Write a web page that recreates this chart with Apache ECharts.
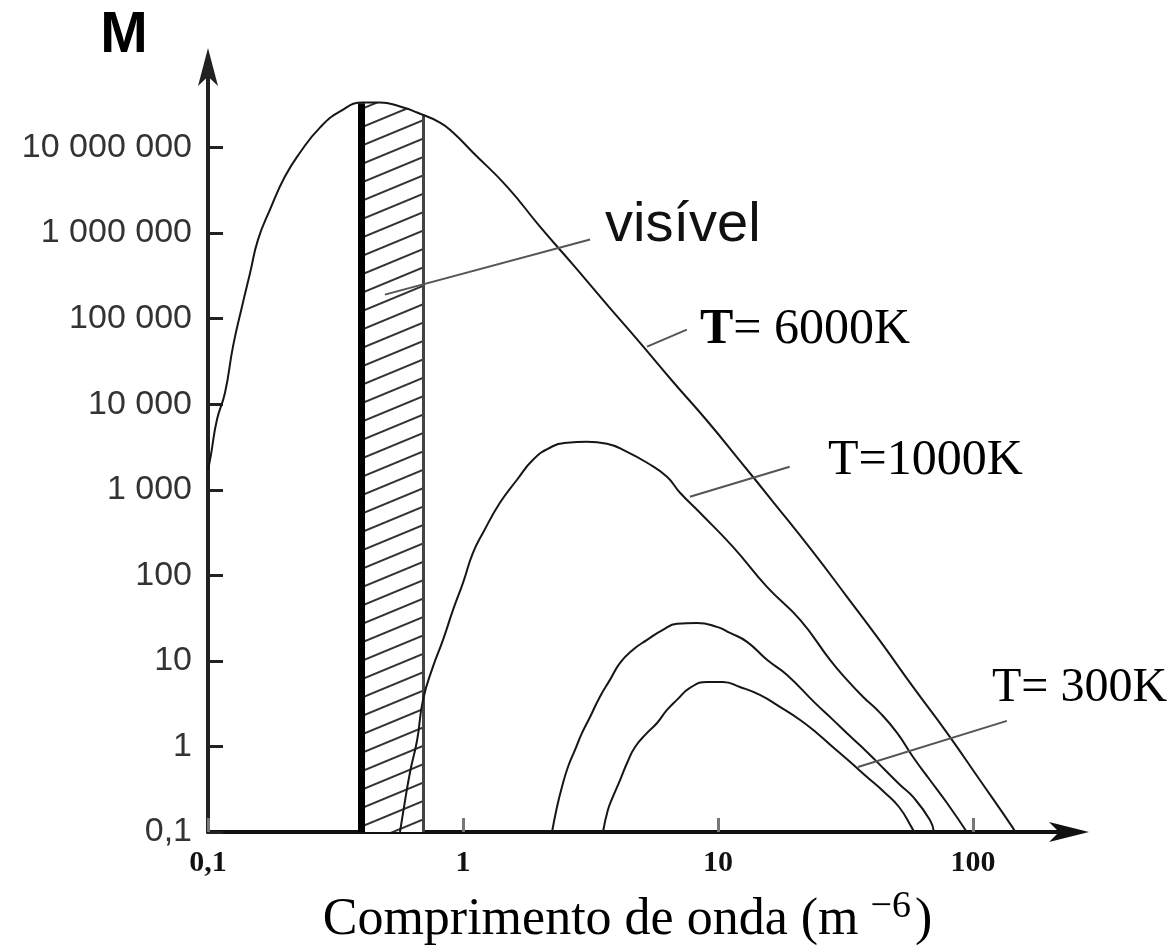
<!DOCTYPE html>
<html>
<head>
<meta charset="utf-8">
<title>Radiação do corpo negro</title>
<script src="https://cdn.jsdelivr.net/npm/echarts@6/dist/echarts.min.js"></script>
<style>
	html, body { margin: 0; padding: 0; background: #fff; }
	#chart { width: 1173px; height: 951px; }
</style>
</head>
<body>
<div id="chart"></div>
<script>
// valores: comprimento de onda (x) e M (y)
var wave6000 = [0.1, 0.1027, 0.1084, 0.1166, 0.1253, 0.1359, 0.1463, 0.1571, 0.175, 0.2003, 0.2296, 0.2748, 0.3296, 0.4055, 0.4726, 0.5663, 0.6607, 0.8124, 0.914, 1.094, 1.488, 2.004, 2.7, 3.67, 4.94, 6.66, 9.06, 12.19, 16.44, 23.58, 32.06, 43.2, 58.2, 79.1, 106.4, 143.6, 146]
var value6000 = [1700, 2570, 6590, 13600, 47100, 138000, 345000, 839000, 1880000, 4580000, 8750000, 17100000, 26400000, 33600000, 33600000, 30200000, 25700000, 19600000, 15000000, 8750000, 3500000, 1190000, 428000, 146000, 52400, 18300, 6410, 2180, 724, 188, 56.1, 17.1, 4.96, 1.44, 0.405, 0.111, 0.1]

var wave1000 = [0.566, 0.582, 0.619, 0.661, 0.697, 0.762, 0.835, 0.914, 1.0, 1.094, 1.198, 1.396, 1.629, 1.882, 2.193, 2.56, 3.06, 3.67, 4.4, 5.27, 6.31, 7.1, 8.5, 11.45, 15.56, 21.0, 27.5, 32.06, 37.1, 43.2, 50.4, 58.2, 67.8, 79.1, 94.6]
var value1000 = [0.1, 0.167, 0.49, 1.19, 3.5, 8.51, 17.6, 39.4, 81.7, 183, 314, 705, 1310, 2240, 3100, 3550, 3640, 3450, 2780, 2070, 1420, 922, 538, 215, 73.3, 30.2, 10.3, 6.0, 3.79, 2.47, 1.44, 0.753, 0.405, 0.218, 0.1]

var waveMid = [2.234, 2.337, 2.444, 2.58, 2.75, 2.93, 3.15, 3.44, 3.77, 4.13, 4.64, 5.27, 6.08, 6.9, 8.27, 9.91, 11.15, 13.0, 15.56, 18.66, 24.0, 28.0, 32.6, 38.4, 44.8, 51.8, 58.2, 67.8, 70.3]
var valueMid = [0.1, 0.196, 0.336, 0.575, 0.91, 1.44, 2.21, 3.79, 6.0, 9.48, 13.5, 17.6, 23.1, 27.1, 27.8, 25.0, 21.2, 16.7, 10.3, 6.85, 3.23, 2.1, 1.36, 0.863, 0.546, 0.355, 0.257, 0.138, 0.1]

var wave300 = [3.54, 3.7, 3.87, 4.13, 4.4, 4.73, 5.27, 5.77, 6.31, 6.9, 7.76, 9.06, 10.46, 12.19, 14.6, 17.5, 21.0, 24.4, 28.5, 33.0, 38.4, 44.8, 51.3, 57.7, 58.7]
var value300 = [0.1, 0.181, 0.257, 0.405, 0.641, 0.987, 1.44, 1.88, 2.67, 3.5, 4.83, 5.68, 5.68, 4.96, 4.0, 2.9, 2.04, 1.44, 0.96, 0.659, 0.44, 0.294, 0.196, 0.111, 0.1]

// faixa do visível (0,4 a 0,7), topo segue a curva de 6000K
var visibleWave = [0.4, 0.47, 0.57, 0.66, 0.7]
var visibleValue = [33000000, 33600000, 30200000, 25700000, 23700000]

var xTickValues = [0.1, 1, 10, 100]
var xTickLabels = ['0,1', '1', '10', '100']
var yTickValues = [0.1, 1, 10, 100, 1000, 10000, 100000, 1000000, 10000000]
var yTickLabels = ['0,1', '1', '10', '100', '1 000', '10 000', '100 000', '1 000 000', '10 000 000']

function pairs(xs, ys) {
	return xs.map(function (x, i) {
		return [x, ys[i]]
	})
}

function tickLabel(values, labels) {
	return function (v) {
		for (var i = 0; i < values.length; i++) {
			if (Math.abs(Math.log10(v) - Math.log10(values[i])) < 1e-6) return labels[i]
		}
		return ''
	}
}

function leader(a, b) {
	return {
		silent: true,
		symbol: 'none',
		animation: false,
		label: { show: false },
		lineStyle: { color: '#555', width: 2, type: 'solid' },
		data: [[{ coord: a }, { coord: b }]],
	}
}

var curveStyle = { color: '#161616', width: 2 }

var myChart = echarts.init(document.getElementById('chart'))
var option = {
	animation: false,
	backgroundColor: '#fff',
	grid: {
		left: 208,
		right: 104,
		top: 62,
		bottom: 119,
		containLabel: false,
		outerBoundsMode: 'none',
	},
	xAxis: {
		type: 'log',
		logBase: 10,
		min: 0.1,
		max: 238,
		axisLine: {
			symbol: ['none', 'arrow'],
			symbolSize: [15, 40],
			symbolOffset: [0, 20],
			lineStyle: { color: '#111', width: 4 },
		},
		axisTick: {
			inside: true,
			length: 14,
			customValues: xTickValues,
			lineStyle: { color: '#777', width: 3 },
		},
		axisLabel: {
			customValues: xTickValues,
			formatter: tickLabel(xTickValues, xTickLabels),
			fontFamily: 'Liberation Serif',
			fontWeight: 'bold',
			fontSize: 30,
			color: '#111',
			margin: 16,
		},
		splitLine: { show: false },
		minorTick: { show: false },
		name: '{a|Comprimento de onda (m}{s|−6}{a|)}',
		nameLocation: 'middle',
		nameGap: 56,
		nameTextStyle: {
			padding: [0, 22, 0, 0],
			rich: {
				a: { fontFamily: 'Liberation Serif', fontSize: 52, lineHeight: 64, color: '#000' },
				s: { fontFamily: 'Liberation Serif', fontSize: 38, lineHeight: 38, verticalAlign: 'top', color: '#000', padding: [0, 4, 0, 12] },
			},
		},
	},
	yAxis: {
		type: 'log',
		logBase: 10,
		min: 0.1,
		max: 100000000,
		axisLine: {
			symbol: ['none', 'arrow'],
			symbolSize: [15, 38],
			symbolOffset: [0, 14],
			lineStyle: { color: '#222', width: 4 },
		},
		axisTick: {
			inside: true,
			length: 15,
			customValues: yTickValues,
			lineStyle: { color: '#222', width: 3 },
		},
		axisLabel: {
			customValues: yTickValues,
			formatter: tickLabel(yTickValues, yTickLabels),
			fontFamily: 'Liberation Sans',
			fontSize: 34,
			color: '#333',
			margin: 16,
		},
		splitLine: { show: false },
		name: 'M',
		nameLocation: 'end',
		nameGap: -3,
		nameTextStyle: {
			fontFamily: 'Liberation Sans',
			fontWeight: 'bold',
			fontSize: 57,
			color: '#000',
			padding: [0, 168, 0, 0],
		},
	},
	series: [
		{
			name: 'visível',
			type: 'line',
			data: pairs(visibleWave, visibleValue),
			showSymbol: false,
			symbol: 'none',
			silent: true,
			lineStyle: { width: 0 },
			areaStyle: { color: '#fff', opacity: 1, origin: 'start' },
			itemStyle: {
				decal: {
					symbol: 'rect',
					symbolSize: 1,
					dashArrayX: [1, 0],
					dashArrayY: [2, 15],
					rotation: -Math.PI / 8,
					color: '#333',
					backgroundColor: '#fff',
				},
			},
			z: 1,
			markLine: leader([0.494, 191000], [3.15, 840000]),
		},
		{
			type: 'line',
			data: [[visibleWave[0], yTickValues[0]], [visibleWave[0], visibleValue[0]]],
			showSymbol: false,
			symbol: 'none',
			silent: true,
			lineStyle: { color: '#000', width: 7 },
			z: 2,
		},
		{
			type: 'line',
			data: [[visibleWave[4], yTickValues[0]], [visibleWave[4], visibleValue[4]]],
			showSymbol: false,
			symbol: 'none',
			silent: true,
			lineStyle: { color: '#444', width: 3 },
			z: 2,
		},
		{
			name: 'T=6000K',
			type: 'line',
			data: pairs(wave6000, value6000),
			showSymbol: false,
			symbol: 'none',
			smooth: 0.5,
			lineStyle: curveStyle,
			z: 3,
			markLine: leader([5.27, 47100], [7.55, 74300]),
		},
		{
			name: 'T=1000K',
			type: 'line',
			data: pairs(wave1000, value1000),
			showSymbol: false,
			symbol: 'none',
			smooth: 0.5,
			lineStyle: curveStyle,
			z: 3,
			markLine: leader([7.76, 828], [19.1, 1860]),
		},
		{
			name: 'curva intermédia',
			type: 'line',
			data: pairs(waveMid, valueMid),
			showSymbol: false,
			symbol: 'none',
			smooth: 0.5,
			lineStyle: curveStyle,
			z: 3,
		},
		{
			name: 'T=300K',
			type: 'line',
			data: pairs(wave300, value300),
			showSymbol: false,
			symbol: 'none',
			smooth: 0.5,
			lineStyle: curveStyle,
			z: 3,
			markLine: leader([35.4, 0.575], [135.8, 1.99]),
		},
	],
	graphic: [
		{
			type: 'text',
			x: 605,
			y: 226,
			style: { text: 'visível', font: '56px "Liberation Sans"', fill: '#111', verticalAlign: 'middle' },
		},
		{
			type: 'text',
			x: 700,
			y: 330,
			style: {
				text: '{b|T}{n|= 6000K}',
				verticalAlign: 'middle',
				rich: {
					b: { fontFamily: 'Liberation Serif', fontSize: 50, fontWeight: 'bold', fill: '#000' },
					n: { fontFamily: 'Liberation Serif', fontSize: 50, fill: '#000' },
				},
			},
		},
		{
			type: 'text',
			x: 828,
			y: 461,
			style: { text: 'T=1000K', font: '50px "Liberation Serif"', fill: '#000', verticalAlign: 'middle' },
		},
		{
			type: 'text',
			x: 992,
			y: 688,
			style: { text: 'T= 300K', font: '48px "Liberation Serif"', fill: '#000', verticalAlign: 'middle' },
		},
	],
}

option && myChart.setOption(option)
</script>
</body>
</html>
